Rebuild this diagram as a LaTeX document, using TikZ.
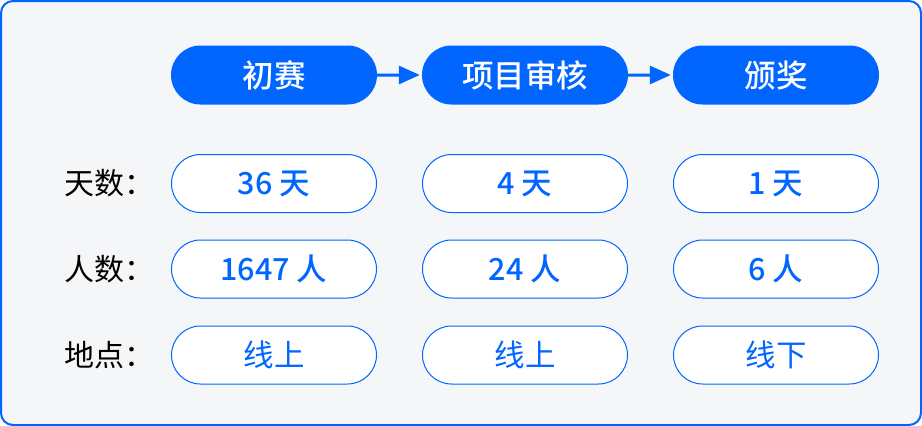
\documentclass[tikz,border=0pt]{standalone}
\usepackage{fontspec}
\setmainfont{Noto Sans CJK SC}
\newfontfamily\cjkmed{Noto Sans CJK SC Medium}
\usetikzlibrary{arrows.meta,shapes.misc}
\definecolor{mblue}{RGB}{0,102,255}
\definecolor{mbg}{RGB}{245,246,248}
\begin{document}
\begin{tikzpicture}[x=1pt,y=-1pt,
  head/.style={rounded rectangle, fill=mblue, draw=none, minimum width=206pt, minimum height=59pt, inner sep=0pt, text=white, font=\cjkmed\fontsize{31.5}{34}\selectfont},
  val/.style={rounded rectangle, fill=white, draw=mblue, line width=1pt, minimum width=205pt, minimum height=58pt, inner sep=0pt, text=mblue, font=\cjkmed\fontsize{30.5}{34}\selectfont},
  lab/.style={inner sep=0pt, text=black, font=\fontsize{30}{34}\selectfont},
  flow/.style={-{Triangle[length=21pt,width=18pt]}, draw=mblue, fill=mblue, line width=3pt, shorten >=2pt}
]
\useasboundingbox (0,0) rectangle (922,426);
\path[fill=mbg, draw=mblue, line width=2pt, rounded corners=12pt] (1,1) rectangle (921,425);
\node[head] (h1) at (274,75) {初赛};
\node[head] (h2) at (525,75) {项目审核};
\node[head] (h3) at (776,75) {颁奖};
\draw[flow] (h1) -- (h2);
\draw[flow] (h2) -- (h3);
\node[lab] (l1) at (109,183) {天数：};
\node[lab] (l2) at (109,269) {人数：};
\node[lab] (l3) at (109,355) {地点：};
\node[val] (a1) at (274,183.5) {36 天};
\node[val] (a2) at (525,183.5) {4 天};
\node[val] (a3) at (776,183.5) {1 天};
\node[val] (b1) at (274,269) {1647 人};
\node[val] (b2) at (525,269) {24 人};
\node[val] (b3) at (776,269) {6 人};
\node[val,font=\fontsize{30.5}{34}\selectfont] (c1) at (274,355) {线上};
\node[val,font=\fontsize{30.5}{34}\selectfont] (c2) at (525,355) {线上};
\node[val,font=\fontsize{30.5}{34}\selectfont] (c3) at (776,355) {线下};
\end{tikzpicture}
\end{document}
